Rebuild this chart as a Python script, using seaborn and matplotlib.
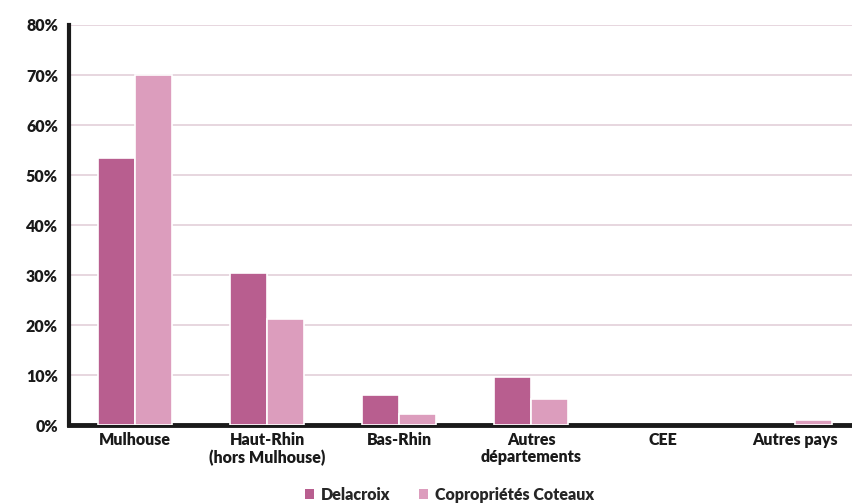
import matplotlib
matplotlib.use("Agg")
import matplotlib.pyplot as plt
import matplotlib.ticker as mticker
import pandas as pd
import seaborn as sns

categories = ["Mulhouse", "Haut-Rhin\n(hors Mulhouse)", "Bas-Rhin",
              "Autres\ndépartements", "CEE", "Autres pays"]
delacroix = [53.5, 30.5, 6.0, 9.6, 0.0, 0.0]
coteaux = [70.0, 21.2, 2.2, 5.2, 0.0, 1.0]
series = ["Delacroix", "Copropriétés Coteaux"]
colors = ["#b85e8f", "#dc9dbd"]

df = pd.DataFrame({
    "cat": categories * 2,
    "val": delacroix + coteaux,
    "serie": [series[0]] * len(categories) + [series[1]] * len(categories),
})

sns.set_style("white")
plt.rcParams["font.family"] = ["Lato", "DejaVu Sans"]
plt.rcParams["font.weight"] = "heavy"

fig = plt.figure(figsize=(8.52, 5.04), dpi=100)
ax = fig.add_axes([0.081, 0.1567, 0.93, 0.7937])

sns.barplot(data=df, x="cat", y="val", hue="serie", palette=colors, saturation=1,
            width=0.56, edgecolor="white", linewidth=1.2, ax=ax, zorder=3)

# no outline for empty bars
for p in ax.patches:
    if p.get_height() == 0:
        p.set_linewidth(0)

ax.set_ylim(0, 80)
ax.set_xlim(-0.5, 5.5)
ax.yaxis.set_major_locator(mticker.MultipleLocator(10))
ax.yaxis.set_major_formatter(mticker.FuncFormatter(lambda v, p: f"{int(v)}%"))
ax.grid(axis="y", color="#e3d0d9", linewidth=1.2, zorder=0)
ax.set_axisbelow(True)

for s in ["top", "right"]:
    ax.spines[s].set_visible(False)
ax.spines["left"].set_linewidth(3)
ax.spines["bottom"].set_linewidth(3.5)
ax.spines["left"].set_color("#1a1a1a")
ax.spines["bottom"].set_color("#1a1a1a")

ax.set_xlabel("")
ax.set_ylabel("")
ax.tick_params(axis="y", length=0, labelsize=11.5, colors="#1a1a1a", pad=8)
ax.tick_params(axis="x", length=0, labelsize=11.5, colors="#1a1a1a", pad=5)
for lab in ax.get_xticklabels() + ax.get_yticklabels():
    lab.set_fontweight("heavy")
    lab.set_linespacing(1.1)

ax.legend(loc="center", bbox_to_anchor=(0.48, -0.175), ncol=2, frameon=False,
          handlelength=0.6, handleheight=0.6, handletextpad=0.4, columnspacing=1.8,
          prop={"weight": "heavy", "size": 11.5})

fig.savefig("out.png", dpi=100)
